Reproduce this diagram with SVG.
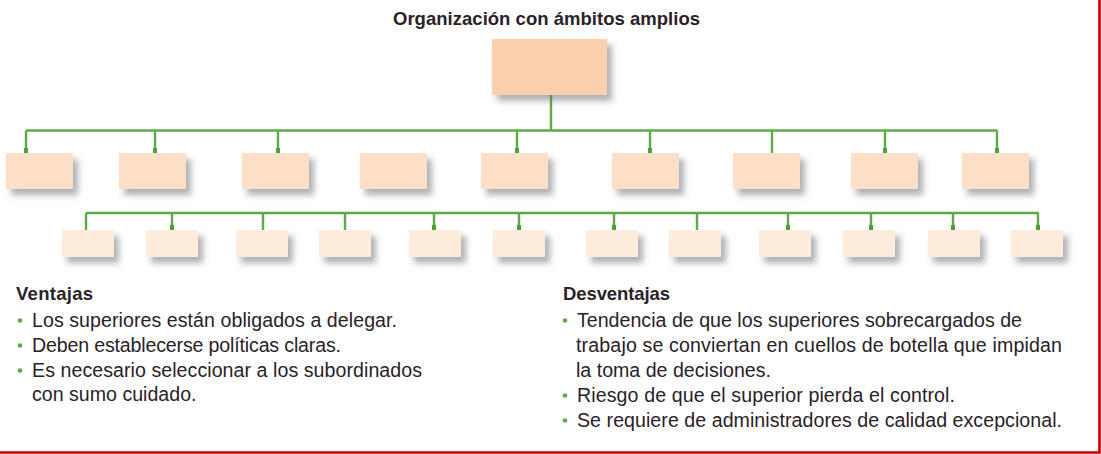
<svg xmlns="http://www.w3.org/2000/svg" width="1101" height="454" viewBox="0 0 1101 454">
<defs>
<filter id="sh" x="-20%" y="-20%" width="150%" height="170%">
<feGaussianBlur in="SourceAlpha" stdDeviation="3"/>
<feOffset dx="5" dy="6" result="b"/>
<feFlood flood-color="#6d7075" flood-opacity="0.55"/>
<feComposite in2="b" operator="in"/>
<feMerge><feMergeNode/><feMergeNode in="SourceGraphic"/></feMerge>
</filter>
<marker id="sq" markerWidth="4" markerHeight="5" refX="2" refY="5" orient="0" markerUnits="userSpaceOnUse">
<rect x="0" y="0" width="4" height="5" fill="#4f9e3c"/>
</marker>
</defs>
<style>
.n0{fill:#FCCFAE;filter:url(#sh)}
.n1{fill:#FDDEC7;filter:url(#sh)}
.n2{fill:#FDEBDC;filter:url(#sh)}
.c{stroke:#5DAA47;stroke-width:2.4;fill:none}
.cm{stroke:#5DAA47;stroke-width:2.4;fill:none;marker-end:url(#sq)}
.t{font-family:"Liberation Sans",Arial,sans-serif;fill:#2a2228}
.h{font-weight:bold;font-size:18.5px}
.b{font-size:19.6px}
.dot{fill:#5DAA47}
.frame{stroke:#C00000;stroke-width:2.6;fill:none}
</style>
<rect width="1101" height="454" fill="#fff"/>
<g id="connectors">
<path class="c" d="M551,95V130.5M26,130.5H997"/>
<path class="cm" d="M26,130.5V153"/>
<path class="cm" d="M155,130.5V153"/>
<path class="cm" d="M278,130.5V153"/>
<path class="cm" d="M517,130.5V153"/>
<path class="cm" d="M650,130.5V153"/>
<path class="c" d="M772,130.5V153"/>
<path class="cm" d="M885,130.5V153"/>
<path class="cm" d="M997,130.5V153"/>
<path class="c" d="M86,213H1039"/>
<path class="c" d="M86,213V230"/>
<path class="cm" d="M172,213V230"/>
<path class="c" d="M263,213V230"/>
<path class="c" d="M345,213V230"/>
<path class="cm" d="M434,213V230"/>
<path class="cm" d="M519,213V230"/>
<path class="cm" d="M614,213V230"/>
<path class="c" d="M697,213V230"/>
<path class="cm" d="M788,213V230"/>
<path class="cm" d="M871,213V230"/>
<path class="cm" d="M953,213V230"/>
<path class="cm" d="M1038,213V230"/>
</g>
<g id="top"><rect class="n0" x="492" y="39" width="115" height="56"/></g>
<g id="l2-1"><rect class="n1" x="6" y="153" width="67" height="36"/></g>
<g id="l2-2"><rect class="n1" x="119" y="153" width="67" height="36"/></g>
<g id="l2-3"><rect class="n1" x="242" y="153" width="67" height="36"/></g>
<g id="l2-4"><rect class="n1" x="360" y="153" width="67" height="36"/></g>
<g id="l2-5"><rect class="n1" x="481" y="153" width="67" height="36"/></g>
<g id="l2-6"><rect class="n1" x="612" y="153" width="67" height="36"/></g>
<g id="l2-7"><rect class="n1" x="733" y="153" width="67" height="36"/></g>
<g id="l2-8"><rect class="n1" x="851" y="153" width="67" height="36"/></g>
<g id="l2-9"><rect class="n1" x="962" y="153" width="67" height="36"/></g>
<g id="l3-1"><rect class="n2" x="62" y="230" width="52" height="27"/></g>
<g id="l3-2"><rect class="n2" x="146" y="230" width="52" height="27"/></g>
<g id="l3-3"><rect class="n2" x="236" y="230" width="52" height="27"/></g>
<g id="l3-4"><rect class="n2" x="319" y="230" width="52" height="27"/></g>
<g id="l3-5"><rect class="n2" x="409" y="230" width="52" height="27"/></g>
<g id="l3-6"><rect class="n2" x="493" y="230" width="52" height="27"/></g>
<g id="l3-7"><rect class="n2" x="586" y="230" width="52" height="27"/></g>
<g id="l3-8"><rect class="n2" x="669" y="230" width="52" height="27"/></g>
<g id="l3-9"><rect class="n2" x="759" y="230" width="52" height="27"/></g>
<g id="l3-10"><rect class="n2" x="843" y="230" width="52" height="27"/></g>
<g id="l3-11"><rect class="n2" x="928" y="230" width="52" height="27"/></g>
<g id="l3-12"><rect class="n2" x="1011" y="230" width="52" height="27"/></g>
<g id="title"><text class="t h" x="393" y="24.5" textLength="307">Organización con ámbitos amplios</text></g>
<g id="ventajas">
<text class="t h" x="16" y="300" textLength="77">Ventajas</text>
<circle class="dot" cx="20" cy="320.5" r="2.3"/>
<circle class="dot" cx="20" cy="345.5" r="2.3"/>
<circle class="dot" cx="20" cy="370.5" r="2.3"/>
<text class="t b" x="32" y="326.5" textLength="365">Los superiores están obligados a delegar.</text>
<text class="t b" x="32" y="351.5" textLength="309">Deben establecerse políticas claras.</text>
<text class="t b" x="32" y="376.5" textLength="390">Es necesario seleccionar a los subordinados</text>
<text class="t b" x="32" y="401">con sumo cuidado.</text>
</g>
<g id="desventajas">
<text class="t h" x="563" y="300" textLength="107">Desventajas</text>
<circle class="dot" cx="565" cy="320.5" r="2.3"/>
<circle class="dot" cx="565" cy="395.5" r="2.3"/>
<circle class="dot" cx="565" cy="420.5" r="2.3"/>
<text class="t b" x="577" y="326.5" textLength="445">Tendencia de que los superiores sobrecargados de</text>
<text class="t b" x="576" y="351.5" textLength="486">trabajo se conviertan en cuellos de botella que impidan</text>
<text class="t b" x="576" y="376.5">la toma de decisiones.</text>
<text class="t b" x="577" y="401.5" textLength="378">Riesgo de que el superior pierda el control.</text>
<text class="t b" x="577" y="426.5" textLength="485">Se requiere de administradores de calidad excepcional.</text>
</g>
<path class="frame" d="M1099.5,0V452.5H0"/>
</svg>
